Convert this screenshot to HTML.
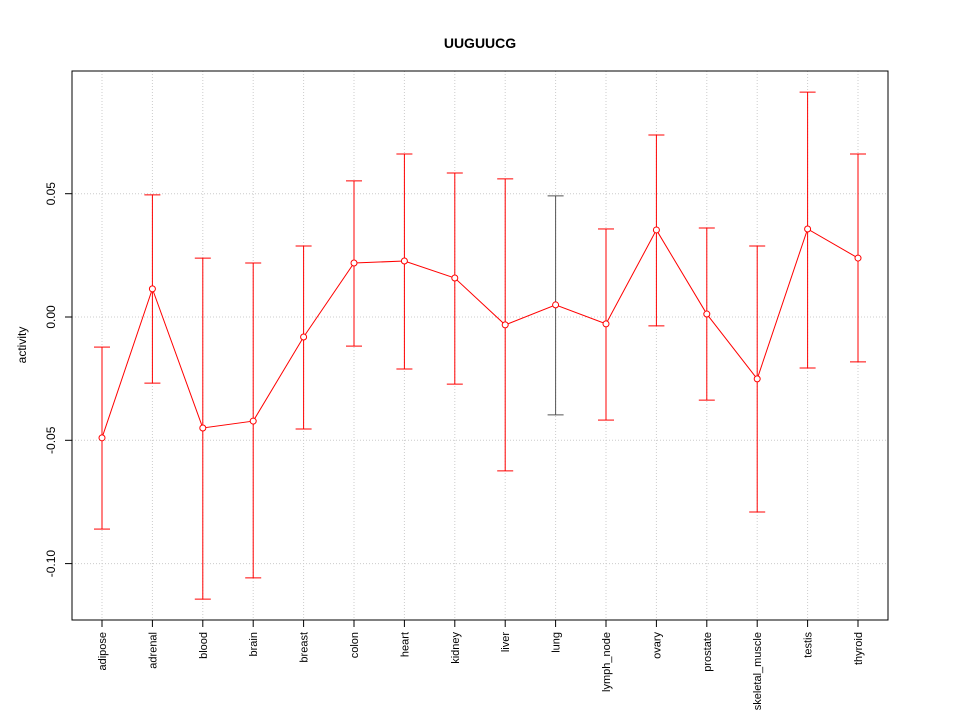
<!DOCTYPE html>
<html><head><meta charset="utf-8"><style>
body{margin:0;background:#fff}
svg{display:block;font-family:"Liberation Sans",Arial,sans-serif}
</style></head><body>
<svg id="chart" width="960" height="720">
<text x="480" y="48" text-anchor="middle" font-size="14" font-weight="bold">UUGUUCG</text>
<g id="grid"></g>
<g id="bars"></g>
<g id="line"></g>
<rect x="72" y="71" width="816" height="549" fill="none" stroke="#000"/>
<g id="yaxis"></g>
<g id="xaxis"></g>
<text transform="translate(26,345) rotate(-90)" text-anchor="middle" font-size="12">activity</text>
</svg>
<script>
const categories=["adipose","adrenal","blood","brain","breast","colon","heart","kidney","liver","lung","lymph_node","ovary","prostate","skeletal_muscle","testis","thyroid"];
const means=[-0.049,0.0114,-0.045,-0.0422,-0.0081,0.0219,0.0227,0.0158,-0.0032,0.0049,-0.0028,0.0353,0.0012,-0.0251,0.0357,0.0239];
const upper=[-0.0122,0.0495,0.0239,0.0219,0.0288,0.0552,0.0661,0.0584,0.056,0.0491,0.0357,0.0738,0.0361,0.0288,0.0912,0.0661];
const lower=[-0.086,-0.0268,-0.1144,-0.1058,-0.0454,-0.0118,-0.0211,-0.0272,-0.0624,-0.0397,-0.0418,-0.0036,-0.0337,-0.0791,-0.0207,-0.0182];
const yTicks=[-0.10,-0.05,0.00,0.05];
const yTickLabels=["-0.10","-0.05","0.00","0.05"];
const NS="http://www.w3.org/2000/svg";
function X(i){return 102+i*(858-102)/(categories.length-1);}
function Y(v){return 317-v*2466;}
function mk(tag,attrs,parent){const e=document.createElementNS(NS,tag);for(const k in attrs)e.setAttribute(k,attrs[k]);document.getElementById(parent).appendChild(e);return e;}
categories.forEach((c,i)=>{
 const g=mk('line',{x1:X(i),x2:X(i),y1:71,y2:620,stroke:'#ccc','stroke-dasharray':'1,2'},'grid');
 
 
 const t=mk('line',{x1:X(i),x2:X(i),y1:620,y2:627,stroke:'#000'},'xaxis');
 
 
 const l=mk('text',{transform:`translate(${X(i)+4},632) rotate(-90)`,'text-anchor':'end','font-size':'11'},'xaxis');
 l.textContent=c;
 
 
 const col=i===9?'#555':'red';
 const b=mk('line',{x1:X(i),x2:X(i),y1:Y(upper[i]),y2:Y(lower[i]),stroke:col},'bars');
 
 
 [upper[i],lower[i]].forEach(v=>{
  const cap=mk('line',{x1:X(i)-8,x2:X(i)+8,y1:Y(v),y2:Y(v),stroke:col},'bars');
  
  
 });
});
yTicks.forEach((v,i)=>{
 const g=mk('line',{x1:72,x2:888,y1:Y(v),y2:Y(v),stroke:'#ccc','stroke-dasharray':'1,2'},'grid');
 
 
 const t=mk('line',{x1:65,x2:72,y1:Y(v),y2:Y(v),stroke:'#000'},'yaxis');
 
 
 const l=mk('text',{transform:`translate(55,${Y(v)}) rotate(-90)`,'text-anchor':'middle','font-size':'12'},'yaxis');
 l.textContent=yTickLabels[i];
 
 
});
const pl=mk('polyline',{points:means.map((v,i)=>X(i)+','+Y(v)).join(' '),fill:'none',stroke:'red'},'line');


means.forEach((v,i)=>{
 const p=mk('circle',{cx:X(i),cy:Y(v),r:3,fill:'#fff',stroke:'red'},'line');
 
 
});
</script>
</body></html>
